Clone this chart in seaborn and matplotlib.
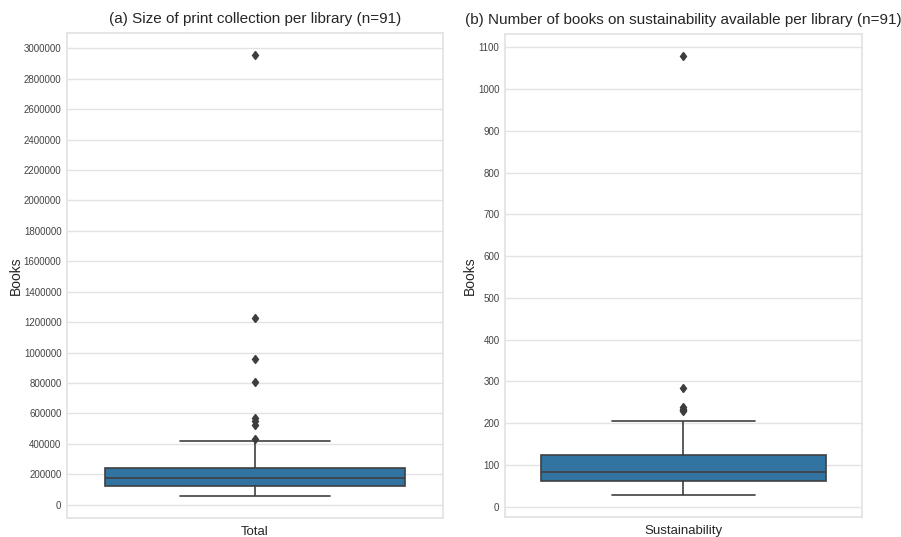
import pandas as pd
import numpy as np
import matplotlib
matplotlib.use("Agg")
import matplotlib.pyplot as plt
import seaborn as sns

# ---------------------------------------------------------------------------
# Datos (n=91 bibliotecas por panel)
# ---------------------------------------------------------------------------
# (a) tamano de la coleccion impresa
total_books = [
    57000, 61000, 66000, 70000, 74000, 78000, 81000, 84000, 88000, 91000,
    94000, 97000, 100000, 103000, 105000, 108000, 110000, 112000, 114000, 116000,
    118000, 120000, 121000, 123000,
    126000, 128000, 131000, 134000, 136000, 139000, 141000, 144000, 147000, 149000,
    152000, 154000, 157000, 159000, 161000, 164000, 166000, 168000, 170000, 172000,
    174000, 175000,
    177000, 179000, 182000, 184000, 187000, 189000, 192000, 195000, 198000, 201000,
    204000, 207000, 210000, 213000, 216000, 219000, 222000, 226000, 229000, 233000,
    236000, 239000, 241000,
    246000, 252000, 258000, 265000, 272000, 280000, 289000, 298000, 310000, 325000,
    342000, 364000, 389000, 416000,
    434000, 525000, 552000, 568000, 803000, 956000, 1230000, 2955000,
]

# (b) libros sobre sostenibilidad
sustainability_books = [
    28, 31, 34, 36, 38, 40, 42, 44, 45, 47, 48, 50, 51, 52, 53, 54, 55, 56, 57, 58,
    59, 60, 60, 62,
    63, 64, 65, 66, 67, 68, 69, 70, 71, 72, 73, 74, 75, 76, 77, 78, 79, 80, 81, 82,
    82, 83,
    84, 86, 88, 90, 92, 94, 96, 98, 100, 102, 104, 106, 108, 110, 112, 114, 116, 118,
    120, 122, 123, 124, 126,
    128, 131, 134, 137, 140, 144, 148, 152, 157, 162, 168, 175, 183, 192, 199, 206,
    229, 231, 234, 238, 284, 1079,
]

titles = [
    "(a) Size of print collection per library (n=91)",
    "(b) Number of books on sustainability available per library (n=91)",
]

sns.set_theme(style="whitegrid")
plt.rcParams["font.family"] = ["Liberation Sans", "DejaVu Sans"]
plt.rcParams["grid.color"] = "#e3e3e3"
plt.rcParams["axes.edgecolor"] = "#e3e3e3"

fig = plt.figure(figsize=(9.01, 5.37), dpi=100)
ax1 = fig.add_axes([0.0744, 0.0354, 0.4173, 0.903])
ax2 = fig.add_axes([0.5605, 0.0372, 0.396, 0.8995])

flier = dict(marker="d", markerfacecolor="#3d3d3d", markeredgecolor="#3d3d3d",
             markersize=4.5)

panels = [
    (ax1, pd.DataFrame({"Total": total_books}), titles[0]),
    (ax2, pd.DataFrame({"Sustainability": sustainability_books}), titles[1]),
]

for ax, data, title in panels:
    sns.boxplot(data=data, ax=ax, color="#3274a1", saturation=1,
                linecolor="#3f3f3f", linewidth=1.2, width=0.8,
                flierprops=flier)
    ax.set_title(title, fontsize=11, color="#262626", pad=7)
    ax.set_ylabel("Books", fontsize=10, color="#262626", labelpad=0.5)
    ax.set_xlabel("")
    ax.tick_params(axis="y", labelsize=7, colors="#444444", length=0, pad=4)
    ax.tick_params(axis="x", labelsize=9.5, colors="#262626", length=0, pad=6)
    for s in ax.spines.values():
        s.set_color("#e3e3e3")

ax1.set_yticks(np.arange(0, 3000001, 200000))
ax1.set_yticklabels([str(v) for v in range(0, 3000001, 200000)])
ax2.set_yticks(np.arange(0, 1101, 100))

fig.savefig("out.png", dpi=100)
